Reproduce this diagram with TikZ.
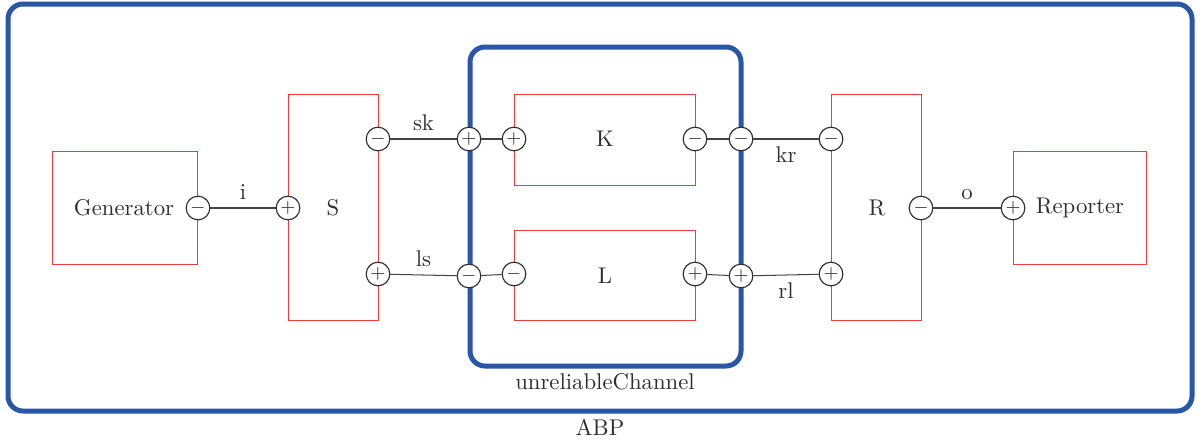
\documentclass[tikz,border=0pt]{standalone}
\usepackage{xcolor}
\usepackage{tikz}
\usetikzlibrary{positioning}
\definecolor{frameblue}{HTML}{2A56A6}
\definecolor{blockred}{HTML}{EE3B3B}
\definecolor{inkgray}{HTML}{2E2E2E}
\tikzset{
  frm/.style={draw=frameblue, line width=2.2pt, rounded corners=6.6pt},
  blk/.style={draw=blockred, line width=0.4pt},
  port/.style={circle, draw=inkgray, fill=white, line width=0.5pt, inner sep=0pt,
               minimum size=10.4pt, font=\footnotesize, text=inkgray},
  wire/.style={draw=inkgray!90, line width=0.45pt},
  lbl/.style={text=inkgray},
}
\begin{document}
\begin{tikzpicture}[x=0.44pt,y=-0.44pt]
  \useasboundingbox (0,0) rectangle (1204,440);
  % frames
  \draw[frm] (8,4) rectangle (1192,411);
  \node[lbl] (abp) at (600,427) {ABP};
  \draw[frm] (470,47) rectangle (741,366);
  \node[lbl] (chan) at (605,382) {unreliableChannel};
  % blocks
  \draw[blk] (52,151) rectangle (197,264);
  \node[lbl] (gen) at (124,208) {Generator};
  \draw[blk] (288,94) rectangle (378,320);
  \node[lbl] (snd) at (333,208) {S};
  \draw[blk] (514,94) rectangle (695,185);
  \node[lbl] (kch) at (605,139) {K};
  \draw[blk] (514,230) rectangle (695,320);
  \node[lbl] (lch) at (605,276) {L};
  \draw[blk] (831,94) rectangle (921,320);
  \node[lbl] (rcv) at (877,208) {R};
  \draw[blk] (1013,151) rectangle (1146,264);
  \node[lbl] (rep) at (1080,208) {Reporter};
  % ports
  \node[port] (gen-i) at (198,208) {$-$};
  \node[port] (s-i)   at (288,208) {$+$};
  \node[port] (s-k)   at (378,139) {$-$};
  \node[port] (s-l)   at (378,274) {$+$};
  \node[port] (c-sk)  at (469,139) {$+$};
  \node[port] (c-ls)  at (469,276) {$-$};
  \node[port] (k-in)  at (514,139) {$+$};
  \node[port] (k-out) at (695,139) {$-$};
  \node[port] (l-in)  at (514,274) {$-$};
  \node[port] (l-out) at (695,274) {$+$};
  \node[port] (c-kr)  at (741,139) {$-$};
  \node[port] (c-rl)  at (741,276) {$+$};
  \node[port] (r-k)   at (831,139) {$-$};
  \node[port] (r-l)   at (831,274) {$+$};
  \node[port] (r-o)   at (921,208) {$-$};
  \node[port] (rep-o) at (1013,208) {$+$};
  % connectors
  \draw[wire] (gen-i) -- node[lbl,above]{i} (s-i);
  \draw[wire] (s-k) -- node[lbl,above]{sk} (c-sk);
  \draw[wire] (s-l) -- node[lbl,above]{ls} (c-ls);
  \draw[wire] (c-sk) -- (k-in);
  \draw[wire] (c-ls) -- (l-in);
  \draw[wire] (k-out) -- (c-kr);
  \draw[wire] (l-out) -- (c-rl);
  \draw[wire] (c-kr) -- node[lbl,below]{kr} (r-k);
  \draw[wire] (c-rl) -- node[lbl,below]{rl} (r-l);
  \draw[wire] (r-o) -- node[lbl,above]{o} (rep-o);
\end{tikzpicture}
\end{document}
